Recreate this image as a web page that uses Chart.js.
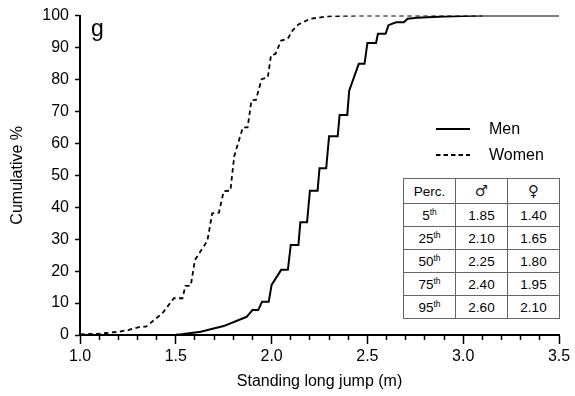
<!DOCTYPE html>
<html>
<head>
<meta charset="utf-8">
<script src="https://cdn.jsdelivr.net/npm/chart.js@4.4.1/dist/chart.umd.min.js"></script>
<style>
  body { margin: 0; background: #fff; font-family: "Liberation Sans", Arial, sans-serif; color: #000; }
  #wrap { position: relative; width: 575px; height: 396px; }
  .panel { position: absolute; left: 91px; top: 15px; font-size: 23px; }
  .legend { position: absolute; left: 436px; top: 116px; font-size: 16px; }
  .legend div { display: flex; align-items: center; height: 26px; }
  .legend svg { margin-right: 19px; }
  table { position: absolute; left: 403px; top: 178px; border-collapse: collapse; font-size: 13.5px; background: #fff; }
  td { border: 1px solid #666; width: 51px; height: 22px; text-align: center; padding: 0; }
  tr.head td { height: 24px; }
  .sym { font-family: "DejaVu Sans", sans-serif; font-size: 15px; color: #222; line-height: 1; }
  sup { font-size: 8.5px; line-height: 0; }
</style>
</head>
<body>
<div id="wrap">
  <canvas id="cdfChart" width="575" height="396"></canvas>
  <div class="panel">g</div>
  <div class="legend">
    <div><svg width="34" height="4"><line x1="0" y1="2" x2="34" y2="2" stroke="#000" stroke-width="2"/></svg>Men</div>
    <div><svg width="34" height="4"><line x1="0" y1="2" x2="34" y2="2" stroke="#000" stroke-width="1.8" stroke-dasharray="4.5,3"/></svg>Women</div>
  </div>
  <table id="percTable"></table>
</div>
<script>
// cumulative distribution of standing long jump
const menX = [1.00, 1.50, 1.53, 1.63, 1.75, 1.87, 1.90, 1.93, 1.95, 1.985, 2.00, 2.05, 2.085, 2.10, 2.14, 2.15, 2.185, 2.20, 2.24, 2.25, 2.285, 2.30, 2.345, 2.355, 2.395, 2.405, 2.455, 2.485, 2.50, 2.545, 2.555, 2.595, 2.61, 2.65, 2.69, 2.71, 2.76, 2.90, 3.10, 3.50];
const menY = [0, 0.1, 0.2, 1.0, 2.8, 5.7, 7.8, 7.8, 10.4, 10.4, 15.7, 20.4, 20.4, 28.2, 28.2, 35.3, 35.3, 45.2, 45.2, 52.2, 52.2, 62.2, 62.2, 68.9, 68.9, 76.5, 84.9, 84.9, 91.4, 91.4, 94.3, 94.3, 97.0, 97.9, 97.9, 99.0, 99.3, 99.7, 100, 100];

const womenX = [1.00, 1.10, 1.20, 1.255, 1.315, 1.345, 1.43, 1.49, 1.535, 1.55, 1.578, 1.60, 1.665, 1.69, 1.725, 1.75, 1.785, 1.805, 1.85, 1.875, 1.895, 1.918, 1.948, 1.98, 1.997, 2.02, 2.05, 2.085, 2.11, 2.14, 2.20, 2.30, 2.45, 3.10];
const womenY = [0.2, 0.4, 1.0, 1.6, 2.6, 2.6, 6.8, 11.5, 11.5, 15.4, 15.4, 23.5, 29.5, 38.1, 38.3, 45.0, 45.2, 56.0, 65.0, 65.0, 73.5, 73.6, 80.1, 80.6, 87.6, 88.0, 92.2, 92.8, 95.4, 97.2, 99.0, 99.8, 100, 100];

// percentile table
const percentiles = ['5', '25', '50', '75', '95'];
const menPerc = ['1.85', '2.10', '2.25', '2.40', '2.60'];
const womenPerc = ['1.40', '1.65', '1.80', '1.95', '2.10'];

const tbl = document.getElementById('percTable');
let rows = '<tr class="head"><td>Perc.</td><td><span class="sym">\u2642\uFE0E</span></td><td><span class="sym">\u2640\uFE0E</span></td></tr>';
percentiles.forEach((p, i) => {
  rows += '<tr><td>' + p + '<sup>th</sup></td><td>' + menPerc[i] + '</td><td>' + womenPerc[i] + '</td></tr>';
});
tbl.innerHTML = rows;

const toPts = (xs, ys) => xs.map((x, i) => ({ x: x, y: ys[i] }));
const isMajor = v => Math.abs(v * 2 - Math.round(v * 2)) < 1e-6;

Chart.defaults.font.family = '"Liberation Sans", Arial, sans-serif';
Chart.defaults.color = '#000';

new Chart(document.getElementById('cdfChart'), {
  type: 'line',
  data: {
    datasets: [
      { label: 'Men', data: toPts(menX, menY), borderColor: '#000', borderWidth: 2, pointRadius: 0, tension: 0, fill: false },
      { label: 'Women', data: toPts(womenX, womenY), borderColor: '#000', borderWidth: 1.8, borderDash: [4.5, 3.5], pointRadius: 0, tension: 0, fill: false }
    ]
  },
  options: {
    responsive: false,
    animation: false,
    events: [],
    layout: { padding: { left: 0, right: 16, top: 15, bottom: 0 } },
    plugins: { legend: { display: false }, tooltip: { enabled: false } },
    scales: {
      x: {
        type: 'linear', min: 1, max: 3.5,
        border: { color: '#000', width: 2 },
        grid: {
          drawOnChartArea: false, tickLength: 9, tickWidth: 1.5, tickColor: '#000',
          tickBorderDash: c => (c.tick && isMajor(c.tick.value)) ? [] : [4, 20]
        },
        ticks: {
          stepSize: 0.1, autoSkip: false, maxRotation: 0, font: { size: 16 }, padding: 3,
          callback: v => isMajor(v) ? v.toFixed(1) : ''
        },
        title: { display: true, text: 'Standing long jump (m)', font: { size: 16 }, padding: { top: 4, bottom: 5 } },
        afterFit: s => { s.height = 61; }
      },
      y: {
        min: 0, max: 100,
        border: { color: '#000', width: 2 },
        grid: { drawOnChartArea: false, tickLength: 5, tickWidth: 1.5, tickColor: '#000' },
        ticks: { stepSize: 10, font: { size: 16 }, padding: 6 },
        title: { display: true, text: 'Cumulative %', font: { size: 16 }, padding: { top: 8, bottom: 0 } },
        afterFit: s => { s.width = 80; }
      }
    }
  }
});
</script>
</body>
</html>
